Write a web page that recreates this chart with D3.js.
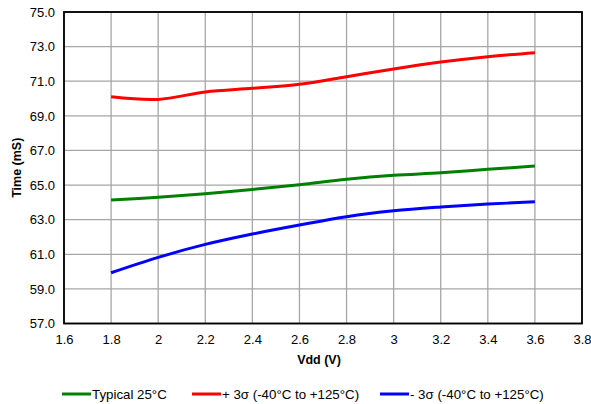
<!DOCTYPE html>
<html><head><meta charset="utf-8">
<script src="https://cdn.jsdelivr.net/npm/d3@7"></script>
<style>html,body{margin:0;padding:0;background:#fff;}svg{display:block;font-family:"Liberation Sans",Arial,sans-serif;}</style>
</head><body>
<svg id="c" width="591" height="404"></svg>
<script>
const vdd = [1.8, 2.0, 2.2, 2.4, 2.6, 2.8, 3.0, 3.2, 3.4, 3.6];
const typical = [64.13, 64.29, 64.50, 64.75, 65.02, 65.33, 65.56, 65.71, 65.91, 66.10];
const plus3s = [70.10, 69.95, 70.38, 70.59, 70.82, 71.26, 71.71, 72.11, 72.42, 72.65];
const minus3s = [59.93, 60.82, 61.57, 62.17, 62.69, 63.17, 63.51, 63.73, 63.90, 64.03];
const seriesNames = ["Typical 25°C", "+ 3σ (-40°C to +125°C)", "- 3σ (-40°C to +125°C)"];
const seriesColors = ["#008000", "#ff0000", "#0000ff"];
const xTicks = [1.6, 1.8, 2.0, 2.2, 2.4, 2.6, 2.8, 3.0, 3.2, 3.4, 3.6, 3.8];
const xTickLabels = ["1.6","1.8","2","2.2","2.4","2.6","2.8","3","3.2","3.4","3.6","3.8"];
const yTicks = [57, 59, 61, 63, 65, 67, 69, 71, 73, 75];
const yTickLabels = ["57.0","59.0","61.0","63.0","65.0","67.0","69.0","71.0","73.0","75.0"];
const xTitle = "Vdd (V)", yTitle = "Time (mS)";

const svg = d3.select("#c");
const L = 64, R = 582, T = 12, B = 323.5;
const x = d3.scaleLinear().domain([1.6, 3.8]).range([L, R]);
const y = d3.scaleLinear().domain([57, 75]).range([B, T]);

// gridlines
const g = svg.append("g");
g.selectAll("line.vx").data(xTicks).join("line")
  .attr("x1", d => x(d)).attr("x2", d => x(d)).attr("y1", T).attr("y2", B)
  .attr("stroke", "#a6a6a6").attr("stroke-width", 1.3);
g.selectAll("line.hy").data(yTicks).join("line")
  .attr("y1", d => y(d)).attr("y2", d => y(d)).attr("x1", L).attr("x2", R)
  .attr("stroke", "#a6a6a6").attr("stroke-width", 1.3);

// axes
const xAxis = d3.axisBottom(x).tickValues(xTicks).tickFormat((d, i) => xTickLabels[i]).tickSize(0).tickPadding(11);
const yAxis = d3.axisLeft(y).tickValues(yTicks).tickFormat((d, i) => yTickLabels[i]).tickSize(0).tickPadding(9);
const gx = svg.append("g").attr("transform", `translate(0,${B})`).call(xAxis);
const gy = svg.append("g").attr("transform", `translate(${L},0)`).call(yAxis);
[gx, gy].forEach(a => {
  a.select(".domain").remove();
  a.selectAll("text").attr("font-size", 13).attr("fill", "#000").attr("font-family", "Liberation Sans, Arial, sans-serif");
});

// border
svg.append("rect").attr("x", L).attr("y", T).attr("width", R - L).attr("height", B - T)
  .attr("fill", "none").attr("stroke", "#000").attr("stroke-width", 1.8);

// lines
const data = [typical, plus3s, minus3s];
const line = d3.line().x((d, i) => x(vdd[i])).y(d => y(d)).curve(d3.curveCatmullRom.alpha(0.5));
svg.append("g").selectAll("path").data(data).join("path")
  .attr("d", d => line(d)).attr("fill", "none")
  .attr("stroke", (d, i) => seriesColors[i]).attr("stroke-width", 3);

// titles
svg.append("text").attr("x", (L + R) / 2 - 4).attr("y", 364).attr("text-anchor", "middle")
  .attr("font-size", 12.5).attr("font-weight", "bold").text(xTitle);
svg.append("text").attr("transform", `translate(21,${(T + B) / 2}) rotate(-90)`).attr("text-anchor", "middle")
  .attr("font-size", 12.5).attr("font-weight", "bold").text(yTitle);

// legend
const legX = [62, 192, 380];
const lg = svg.append("g");
seriesNames.forEach((n, i) => {
  lg.append("line").attr("x1", legX[i]).attr("x2", legX[i] + 29).attr("y1", 394).attr("y2", 394)
    .attr("stroke", seriesColors[i]).attr("stroke-width", 3);
  lg.append("text").attr("x", legX[i] + 30).attr("y", 398.5).attr("font-size", 13.3).text(n);
});
</script>
</body></html>
